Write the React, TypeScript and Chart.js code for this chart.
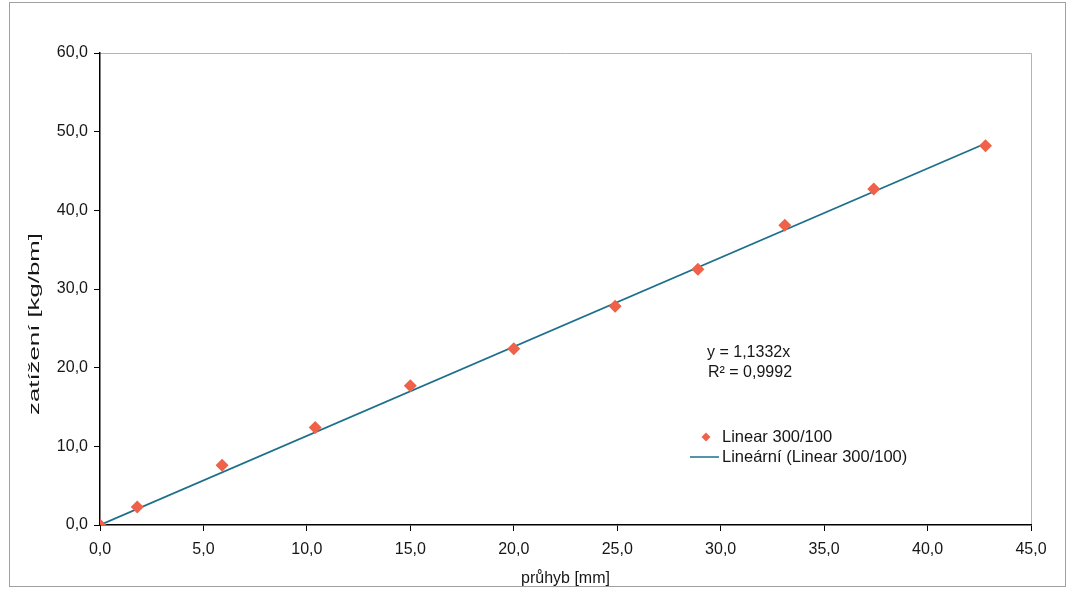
import React, { useEffect, useRef } from "react";
import { Chart, registerables } from "chart.js";

Chart.register(...registerables);

const X_VALUES = [0, 1.8, 5.9, 10.4, 15.0, 20.0, 24.9, 28.9, 33.1, 37.4, 42.8];
const Y_VALUES = [0, 2.3, 7.6, 12.4, 17.7, 22.4, 27.8, 32.5, 38.1, 42.7, 48.2];
const SLOPE = 1.1332;
const R2_TEXT = "R² = 0,9992";
const EQ_TEXT = "y = 1,1332x";
const SERIES_NAME = "Linear 300/100";
const TREND_NAME = "Lineární (Linear 300/100)";
const X_TITLE = "průhyb [mm]";
const Y_TITLE = "zatížení [kg/bm]";

const FONT = "'Liberation Sans', Arial, sans-serif";
const POINT_COLOR = "#ef6148";
const LINE_COLOR = "#1d6f8c";
const TEXT_COLOR = "#161616";

const fmt = (v: number) => Number(v).toFixed(1).replace(".", ",");

export default function App() {
  const ref = useRef<HTMLCanvasElement | null>(null);

  useEffect(() => {
    document.body.style.margin = "0";
    const canvas = ref.current;
    if (!canvas) return;
    const scatter = X_VALUES.map((x, i) => ({ x, y: Y_VALUES[i] }));
    const xEnd = Math.max(...X_VALUES);
    const trend = [
      { x: 0, y: 0 },
      { x: xEnd, y: SLOPE * xEnd },
    ];

    const overlay = {
      id: "overlay",
      beforeDraw(chart: any) {
        const ctx = chart.ctx;
        const a = chart.chartArea;
        ctx.save();
        ctx.fillStyle = "#fff";
        ctx.fillRect(0, 0, chart.width, chart.height);
        ctx.strokeStyle = "#a0a0a0";
        ctx.lineWidth = 1;
        ctx.strokeRect(9.5, 2.5, 1056, 584);
        ctx.strokeStyle = "#b4b4b4";
        ctx.beginPath();
        ctx.moveTo(a.left, a.top + 0.5);
        ctx.lineTo(a.right + 0.5, a.top + 0.5);
        ctx.lineTo(a.right + 0.5, a.bottom);
        ctx.stroke();
        ctx.restore();
      },
      afterDraw(chart: any) {
        const ctx = chart.ctx;
        const a = chart.chartArea;
        ctx.save();
        // y axis title (elongated like the scanned original)
        ctx.fillStyle = TEXT_COLOR;
        ctx.font = `15px ${FONT}`;
        ctx.textBaseline = "middle";
        ctx.textAlign = "center";
        const tw = ctx.measureText(Y_TITLE).width;
        ctx.save();
        ctx.translate(35, 324);
        ctx.rotate(-Math.PI / 2);
        ctx.scale(182 / tw, 1);
        ctx.fillText(Y_TITLE, 0, 0);
        ctx.restore();

        ctx.font = `16px ${FONT}`;
        ctx.textAlign = "left";
        const ex = a.left + 607;
        ctx.fillText(EQ_TEXT, ex, a.top + 300);
        ctx.fillText(R2_TEXT, ex + 1, a.top + 320);
        // legend
        ctx.font = `16.5px ${FONT}`;
        const lx = a.left + 622;
        const y1 = a.top + 384;
        const y2 = a.top + 404;
        ctx.fillStyle = POINT_COLOR;
        ctx.beginPath();
        const cx = a.left + 606;
        ctx.moveTo(cx, y1 - 4.5);
        ctx.lineTo(cx + 4.5, y1);
        ctx.lineTo(cx, y1 + 4.5);
        ctx.lineTo(cx - 4.5, y1);
        ctx.closePath();
        ctx.fill();
        ctx.strokeStyle = LINE_COLOR;
        ctx.lineWidth = 1.5;
        ctx.beginPath();
        ctx.moveTo(a.left + 590, y2);
        ctx.lineTo(a.left + 619, y2);
        ctx.stroke();
        ctx.fillStyle = TEXT_COLOR;
        ctx.fillText(SERIES_NAME, lx, y1);
        ctx.fillText(TREND_NAME, lx, y2);
        ctx.restore();
      },
    };

    const chart = new Chart(canvas, {
      type: "scatter",
      data: {
        datasets: [
          {
            label: TREND_NAME,
            data: trend,
            showLine: true,
            borderColor: LINE_COLOR,
            borderWidth: 1.8,
            pointRadius: 0,
            order: 2,
          },
          {
            label: SERIES_NAME,
            data: scatter,
            pointStyle: "rectRot",
            pointRadius: 6.5,
            backgroundColor: POINT_COLOR,
            borderColor: POINT_COLOR,
            borderWidth: 0,
            order: 1,
          },
        ],
      },
      options: {
        animation: false,
        responsive: false,
        layout: { padding: { left: 8, top: 53, right: 38, bottom: 0 } },
        plugins: {
          legend: { display: false },
          tooltip: { enabled: false },
        },
        scales: {
          x: {
            type: "linear",
            min: 0,
            max: 45,
            afterFit: (s: any) => {
              s.height = 64;
            },
            ticks: {
              stepSize: 5,
              color: TEXT_COLOR,
              font: { family: FONT, size: 16 },
              padding: 9,
              maxRotation: 0,
              callback: (v: any) => fmt(v),
            },
            grid: {
              drawOnChartArea: false,
              tickLength: 6,
              color: "#000",
            },
            border: { color: "#000", width: 1.5 },
            title: {
              display: true,
              text: X_TITLE,
              color: TEXT_COLOR,
              font: { family: FONT, size: 16 },
              padding: { top: 0, bottom: 1 },
            },
          },
          y: {
            type: "linear",
            min: 0,
            max: 60,
            afterFit: (s: any) => {
              s.width = 92;
            },
            ticks: {
              stepSize: 10,
              color: TEXT_COLOR,
              font: { family: FONT, size: 16 },
              padding: 6,
              callback: (v: any) => fmt(v),
            },
            grid: {
              drawOnChartArea: false,
              tickLength: 6,
              color: "#000",
            },
            border: { color: "#000", width: 1.5 },
            title: { display: false },
          },
        },
      },
      plugins: [overlay],
    });
    return () => chart.destroy();
  }, []);

  return (
    <div style={{ width: 1069, height: 589 }}>
      <canvas ref={ref} width={1069} height={589} style={{ display: "block" }} />
    </div>
  );
}
